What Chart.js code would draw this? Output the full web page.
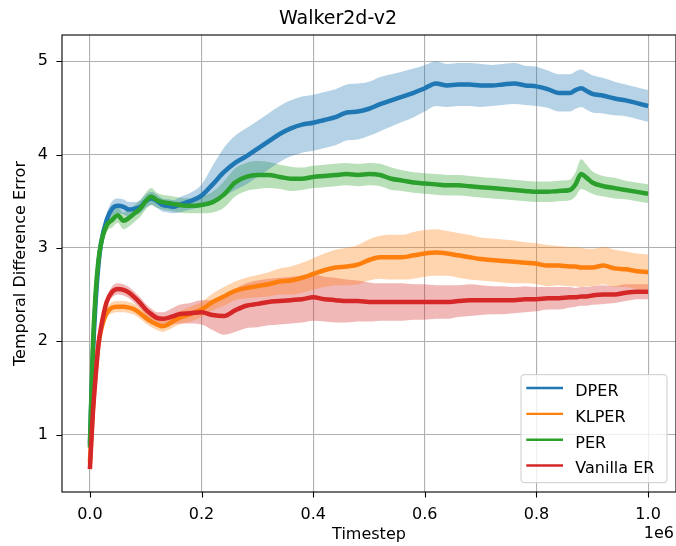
<!DOCTYPE html>
<html>
<head>
<meta charset="utf-8">
<script src="https://cdn.jsdelivr.net/npm/chart.js@4.4.0/dist/chart.umd.min.js"></script>
<style>
  html, body { margin: 0; padding: 0; background: #ffffff; }
  #wrap { width: 676px; height: 546px; }
</style>
</head>
<body>
<div id="wrap"><canvas id="chart" width="676" height="546"></canvas></div>
<script>
// Timesteps (in units of 1e6)
const steps = [0, 0.005, 0.01, 0.015, 0.02, 0.03, 0.04, 0.05, 0.06, 0.07, 0.08, 0.09, 0.10, 0.11, 0.12, 0.13, 0.14, 0.15, 0.16, 0.18, 0.20,
  0.22, 0.24, 0.26, 0.28, 0.30, 0.32, 0.34, 0.36, 0.38, 0.40,
  0.42, 0.44, 0.46, 0.48, 0.50, 0.52, 0.54, 0.56, 0.58, 0.60,
  0.62, 0.64, 0.66, 0.68, 0.70, 0.72, 0.74, 0.76, 0.78, 0.80,
  0.82, 0.84, 0.86,
  0.87, 0.88, 0.89, 0.90,
  0.92, 0.94, 0.96, 0.98, 1.00];

// Mean temporal difference error per method
const dperMean = [0.90, 1.80, 2.40, 2.80, 3.05, 3.30, 3.42, 3.45, 3.44, 3.41, 3.42, 3.44, 3.50, 3.53, 3.50, 3.46, 3.45, 3.44, 3.46, 3.50, 3.56,
  3.68, 3.81, 3.91, 3.98, 4.06, 4.14, 4.22, 4.28, 4.32, 4.34,
  4.37, 4.40, 4.45, 4.46, 4.49, 4.54, 4.58, 4.62, 4.66, 4.71,
  4.76, 4.74, 4.75, 4.75, 4.74, 4.74, 4.75, 4.76, 4.74, 4.73,
  4.70, 4.66, 4.66,
  4.69, 4.71, 4.68, 4.65,
  4.63, 4.60, 4.58, 4.55, 4.52];
const klperMean = [0.70, 1.25, 1.65, 1.95, 2.12, 2.30, 2.36, 2.37, 2.37, 2.36, 2.34, 2.30, 2.25, 2.21, 2.18, 2.16, 2.18, 2.22, 2.25, 2.29, 2.34,
  2.42, 2.48, 2.54, 2.57, 2.59, 2.61, 2.64, 2.65, 2.68, 2.72,
  2.76, 2.79, 2.80, 2.82, 2.87, 2.90, 2.90, 2.90, 2.92, 2.94,
  2.95, 2.94, 2.92, 2.90, 2.88, 2.87, 2.86, 2.85, 2.84, 2.83,
  2.81, 2.81, 2.80,
  2.80, 2.79, 2.79, 2.79,
  2.81, 2.78, 2.77, 2.75, 2.74];
const perMean = [0.86, 1.90, 2.50, 2.85, 3.05, 3.24, 3.30, 3.35, 3.29, 3.32, 3.37, 3.42, 3.50, 3.55, 3.51, 3.49, 3.48, 3.47, 3.46, 3.45, 3.46,
  3.49, 3.57, 3.70, 3.76, 3.78, 3.78, 3.76, 3.74, 3.74, 3.76,
  3.77, 3.78, 3.79, 3.78, 3.79, 3.78, 3.74, 3.72, 3.70, 3.69,
  3.68, 3.67, 3.67, 3.66, 3.65, 3.64, 3.63, 3.62, 3.61, 3.60,
  3.60, 3.61, 3.62,
  3.68, 3.79, 3.75, 3.70,
  3.66, 3.64, 3.62, 3.60, 3.58];
const vanillaMean = [0.63, 1.20, 1.60, 1.95, 2.15, 2.42, 2.53, 2.56, 2.55, 2.52, 2.47, 2.41, 2.34, 2.29, 2.25, 2.24, 2.25, 2.27, 2.29, 2.30, 2.31,
  2.28, 2.27, 2.33, 2.38, 2.40, 2.42, 2.43, 2.44, 2.45, 2.47,
  2.45, 2.44, 2.43, 2.43, 2.42, 2.42, 2.42, 2.42, 2.42, 2.42,
  2.42, 2.42, 2.43, 2.44, 2.44, 2.44, 2.44, 2.44, 2.45, 2.45,
  2.46, 2.46, 2.47,
  2.47, 2.48, 2.48, 2.49,
  2.50, 2.50, 2.52, 2.53, 2.53];

// Standard deviation across seeds (shaded band = mean ± std)
const dperStd = [0.03, 0.05, 0.05, 0.05, 0.06, 0.07, 0.08, 0.08, 0.08, 0.08, 0.07, 0.07, 0.07, 0.07, 0.07, 0.07, 0.07, 0.07, 0.08, 0.09, 0.12,
  0.20, 0.26, 0.29, 0.30, 0.30, 0.30, 0.30, 0.30, 0.30, 0.30,
  0.30, 0.30, 0.30, 0.30, 0.29, 0.29, 0.28, 0.27, 0.26, 0.25,
  0.24, 0.23, 0.23, 0.23, 0.23, 0.22, 0.22, 0.22, 0.21, 0.21,
  0.20, 0.20, 0.20,
  0.20, 0.20, 0.20, 0.20,
  0.19, 0.18, 0.17, 0.17, 0.17];
const klperStd = [0.03, 0.05, 0.05, 0.05, 0.05, 0.05, 0.06, 0.06, 0.06, 0.06, 0.06, 0.06, 0.06, 0.06, 0.06, 0.06, 0.06, 0.07, 0.07, 0.08, 0.08,
  0.09, 0.10, 0.10, 0.11, 0.12, 0.13, 0.14, 0.15, 0.16, 0.17,
  0.18, 0.19, 0.20, 0.21, 0.22, 0.23, 0.24, 0.24, 0.25, 0.25,
  0.25, 0.24, 0.24, 0.24, 0.23, 0.23, 0.23, 0.23, 0.22, 0.22,
  0.22, 0.21, 0.21,
  0.21, 0.21, 0.20, 0.20,
  0.20, 0.20, 0.19, 0.19, 0.19];
const perStd = [0.03, 0.05, 0.05, 0.05, 0.06, 0.07, 0.08, 0.08, 0.09, 0.09, 0.09, 0.09, 0.09, 0.09, 0.08, 0.08, 0.08, 0.08, 0.08, 0.08, 0.09,
  0.11, 0.14, 0.15, 0.15, 0.15, 0.14, 0.13, 0.13, 0.12, 0.12,
  0.12, 0.12, 0.12, 0.12, 0.12, 0.12, 0.12, 0.11, 0.11, 0.11,
  0.11, 0.11, 0.11, 0.11, 0.11, 0.11, 0.11, 0.11, 0.11, 0.11,
  0.11, 0.11, 0.11,
  0.13, 0.16, 0.14, 0.12,
  0.11, 0.11, 0.10, 0.10, 0.10];
const vanillaStd = [0.02, 0.05, 0.05, 0.05, 0.05, 0.05, 0.06, 0.06, 0.06, 0.06, 0.06, 0.06, 0.06, 0.06, 0.06, 0.07, 0.08, 0.09, 0.10, 0.11, 0.13,
  0.16, 0.20, 0.23, 0.24, 0.25, 0.25, 0.25, 0.25, 0.25, 0.25,
  0.24, 0.24, 0.23, 0.22, 0.21, 0.20, 0.20, 0.20, 0.19, 0.19,
  0.18, 0.18, 0.17, 0.17, 0.16, 0.15, 0.15, 0.14, 0.14, 0.13,
  0.12, 0.12, 0.11,
  0.10, 0.10, 0.10, 0.10,
  0.10, 0.09, 0.09, 0.08, 0.08];

const seriesNames = ['DPER', 'KLPER', 'PER', 'Vanilla ER'];
const xTickValues = [0.0, 0.2, 0.4, 0.6, 0.8, 1.0];
const yTickValues = [1, 2, 3, 4, 5];

const FONT = 'DejaVu Sans';
const palette = [[31, 119, 180], [255, 127, 14], [44, 160, 44], [214, 39, 40]];
const rgba = (c, a) => `rgba(${c[0]},${c[1]},${c[2]},${a})`;

const series = [
  { name: seriesNames[0], mean: dperMean, std: dperStd, color: palette[0] },
  { name: seriesNames[1], mean: klperMean, std: klperStd, color: palette[1] },
  { name: seriesNames[2], mean: perMean, std: perStd, color: palette[2] },
  { name: seriesNames[3], mean: vanillaMean, std: vanillaStd, color: palette[3] }
];

// Build: bands (upper + lower filled to upper) then mean lines drawn on top
const datasets = [];
series.forEach((s, k) => {
  datasets.push({
    label: s.name + ' upper',
    data: steps.map((t, i) => ({ x: t, y: s.mean[i] + s.std[i] })),
    borderWidth: 0, pointRadius: 0, fill: false,
    cubicInterpolationMode: 'monotone', order: 10 + k
  });
  datasets.push({
    label: s.name + ' lower',
    data: steps.map((t, i) => ({ x: t, y: s.mean[i] - s.std[i] })),
    borderWidth: 0, pointRadius: 0, fill: '-1',
    backgroundColor: rgba(s.color, 0.33),
    cubicInterpolationMode: 'monotone', order: 10 + k
  });
});
series.forEach((s, k) => {
  datasets.push({
    label: s.name,
    data: steps.map((t, i) => ({ x: t, y: s.mean[i] })),
    borderColor: rgba(s.color, 1),
    borderWidth: 4.5,
    pointRadius: 0, fill: false,
    cubicInterpolationMode: 'monotone',
    order: 4 - k
  });
});

// Frame, outward tick marks, offset label and legend box
const decorations = {
  id: 'decorations',
  afterDraw(chart) {
    const ctx = chart.ctx;
    const ca = chart.chartArea;
    const xs = chart.scales.x, ys = chart.scales.y;
    ctx.save();
    ctx.strokeStyle = '#000';
    ctx.lineWidth = 1.1;
    ctx.strokeRect(ca.left, ca.top, ca.right - ca.left, ca.bottom - ca.top);
    ctx.beginPath();
    xTickValues.forEach(v => {
      const px = Math.round(xs.getPixelForValue(v)) + 0.5;
      ctx.moveTo(px, ca.bottom); ctx.lineTo(px, ca.bottom + 5.6);
    });
    yTickValues.forEach(v => {
      const py = Math.round(ys.getPixelForValue(v)) + 0.5;
      ctx.moveTo(ca.left - 5.6, py); ctx.lineTo(ca.left, py);
    });
    ctx.stroke();

    // scale factor of the x axis
    ctx.fillStyle = '#000';
    ctx.font = `16px "${FONT}"`;
    ctx.textAlign = 'right';
    ctx.textBaseline = 'alphabetic';
    ctx.fillText('1e6', ca.right - 2, 538);

    // legend
    const boxW = 146, boxH = 108;
    const bx = ca.right - 9 - boxW, by = ca.bottom - 9.3 - boxH;
    ctx.beginPath();
    ctx.roundRect(bx, by, boxW, boxH, 3);
    ctx.fillStyle = 'rgba(255,255,255,0.8)';
    ctx.fill();
    ctx.strokeStyle = '#cccccc';
    ctx.lineWidth = 1;
    ctx.stroke();
    series.forEach((s, i) => {
      const ry = by + 13.3 + i * 25.85;
      ctx.beginPath();
      ctx.strokeStyle = rgba(s.color, 1);
      ctx.lineWidth = 2.4;
      ctx.moveTo(bx + 5.3, ry); ctx.lineTo(bx + 42, ry);
      ctx.stroke();
      ctx.fillStyle = '#000';
      ctx.textAlign = 'left';
      ctx.fillText(s.name, bx + 54.3, ry + 7.8);
    });
    ctx.restore();
  }
};

const tickFont = { family: FONT, size: 16 };

new Chart(document.getElementById('chart'), {
  type: 'line',
  data: { datasets },
  options: {
    responsive: false,
    animation: false,
    events: [],
    layout: { padding: 0 },
    plugins: {
      legend: { display: false },
      tooltip: { enabled: false },
      title: {
        display: true, text: 'Walker2d-v2', color: '#000',
        font: { family: FONT, size: 19, weight: 'normal' },
        padding: { top: 7.5, bottom: 4.7 }
      }
    },
    scales: {
      x: {
        type: 'linear', min: -0.05, max: 1.05,
        afterBuildTicks: ax => { ax.ticks = xTickValues.map(v => ({ value: v })); },
        afterFit: ax => { ax.height = 54; },
        grid: { color: '#b0b0b0', lineWidth: 1.1, drawTicks: false },
        border: { display: false },
        ticks: { color: '#000', font: tickFont, padding: 13, maxRotation: 0, autoSkip: false,
                 callback: v => Number(v).toFixed(1) },
        title: { display: true, text: 'Timestep', color: '#000', font: tickFont, padding: { top: 0, bottom: 2 } }
      },
      y: {
        type: 'linear', min: 0.385, max: 5.28,
        afterBuildTicks: ax => { ax.ticks = yTickValues.map(v => ({ value: v })); },
        afterFit: ax => { ax.width = 62; },
        grid: { color: '#b0b0b0', lineWidth: 1.1, drawTicks: false },
        border: { display: false },
        ticks: { color: '#000', font: tickFont, padding: 14, autoSkip: false,
                 callback: v => String(v) },
        title: { display: true, text: 'Temporal Difference Error', color: '#000', font: tickFont, padding: { top: 11, bottom: 0 } }
      }
    }
  },
  plugins: [decorations]
});
</script>
</body>
</html>
